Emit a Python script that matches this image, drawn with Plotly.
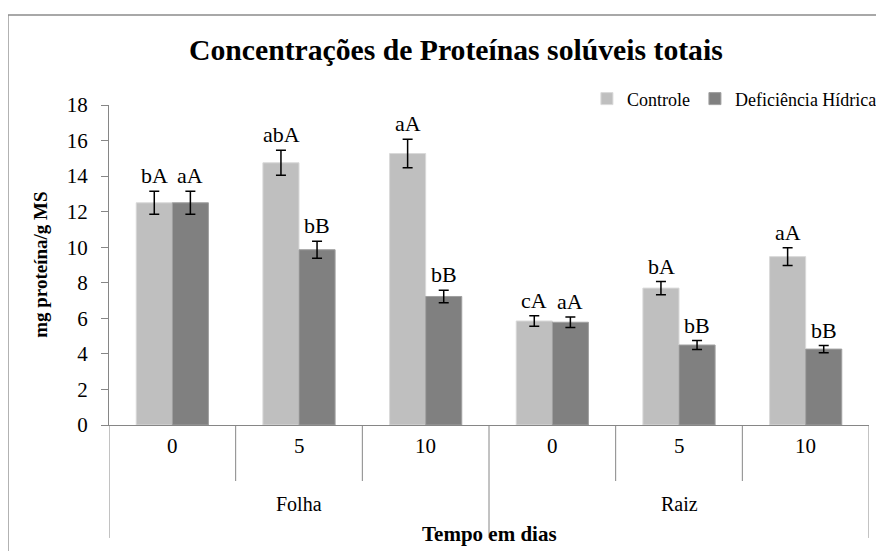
import plotly.graph_objects as go

# ── Data ───────────────────────────────────────────────────────────────────────
tissues = ["Folha", "Folha", "Folha", "Raiz", "Raiz", "Raiz"]
days = ["0", "5", "10", "0", "5", "10"]

controle = [12.5, 14.75, 15.27, 5.85, 7.7, 9.47]
controle_err = [0.65, 0.7, 0.8, 0.3, 0.37, 0.5]
controle_labels = ["bA", "abA", "aA", "cA", "bA", "aA"]

deficit = [12.5, 9.86, 7.23, 5.78, 4.5, 4.27]
deficit_err = [0.65, 0.48, 0.35, 0.3, 0.25, 0.2]
deficit_labels = ["aA", "bB", "bB", "aA", "bB", "bB"]

groups = ["Folha", "Raiz"]
y_ticks = [0, 2, 4, 6, 8, 10, 12, 14, 16, 18]

FONT = "Liberation Serif"
LIGHT = "#bfbfbf"
DARK = "#808080"
AXIS = "#868686"

xs = list(range(len(days)))

fig = go.Figure()
fig.add_trace(go.Bar(
    x=xs, y=controle, name="Controle",
    marker=dict(color=LIGHT, line=dict(color="#d9d9d9", width=1)),
    error_y=dict(type="data", array=controle_err, color="black", thickness=1.5, width=5),
))
fig.add_trace(go.Bar(
    x=xs, y=deficit, name="Deficiência Hídrica",
    marker=dict(color=DARK, line=dict(color="#a0a0a0", width=1)),
    error_y=dict(type="data", array=deficit_err, color="black", thickness=1.5, width=5),
))

annotations = []
# letters above the error bars
for i in xs:
    annotations.append(dict(
        x=i, y=controle[i] + controle_err[i], xref="x", yref="y",
        text=controle_labels[i], showarrow=False, yanchor="bottom",
        xshift=-18, yshift=1, font=dict(family=FONT, size=22, color="black"),
    ))
    annotations.append(dict(
        x=i, y=deficit[i] + deficit_err[i], xref="x", yref="y",
        text=deficit_labels[i], showarrow=False, yanchor="bottom",
        xshift=18, yshift=1, font=dict(family=FONT, size=22, color="black"),
    ))
    # day labels
    annotations.append(dict(
        x=i, y=-0.109, xref="x", yref="paper", text=days[i], showarrow=False,
        font=dict(family=FONT, size=21, color="black"),
    ))

# tissue group labels
n_per = len(days) // len(groups)
for g, name in enumerate(groups):
    annotations.append(dict(
        x=g * n_per + (n_per - 1) / 2, y=-0.287, xref="x", yref="paper",
        text=name, showarrow=False, font=dict(family=FONT, size=20, color="black"),
    ))

annotations.append(dict(
    x=0.5, y=-0.384, xref="paper", yref="paper", text="<b>Tempo em dias</b>",
    xanchor="center", showarrow=False, font=dict(family=FONT, size=21, color="black"),
))
annotations.append(dict(
    x=-0.091, y=0.5, xref="paper", yref="paper", text="<b>mg proteína/g MS</b>",
    xanchor="center", yanchor="middle", textangle=-90, showarrow=False,
    font=dict(family=FONT, size=19, color="black"),
))

shapes = []
# category dividers below the axis
for k in range(len(days) + 1):
    long = k % n_per == 0
    shapes.append(dict(
        type="line", xref="x", yref="paper", x0=k - 0.5, x1=k - 0.5,
        y0=0, y1=-0.353 if long else -0.175, line=dict(color=AXIS, width=1),
    ))
# outer chart border (cut off at right and bottom)
shapes.append(dict(
    type="rect", xref="paper", yref="paper", x0=-0.133, x1=1.5, y0=-0.6, y1=1.281,
    line=dict(color="#8c8c8c", width=1.5), layer="below",
))

fig.update_layout(
    width=868, height=543,
    margin=dict(l=101, r=7, t=97, b=126, autoexpand=False),
    paper_bgcolor="white", plot_bgcolor="white",
    barmode="group", bargap=0.43, bargroupgap=0,
    font=dict(family=FONT, color="black"),
    title=dict(
        text="<b>Concentrações de Proteínas solúveis totais</b>",
        x=0.516, xanchor="center", y=0.923, yanchor="middle",
        font=dict(family=FONT, size=29.7, color="black"),
    ),
    legend=dict(
        orientation="h", x=1.017, xanchor="right", y=1.019, yanchor="middle",
        font=dict(family=FONT, size=18, color="black"),
        itemwidth=30, bgcolor="rgba(0,0,0,0)",
    ),
    showlegend=True,
    annotations=annotations,
    shapes=shapes,
)
fig.update_xaxes(
    range=[-0.5, len(days) - 0.5], showticklabels=False, ticks="",
    showgrid=False, zeroline=False, showline=True, linecolor=AXIS, linewidth=1,
)
fig.update_yaxes(
    range=[0, 18], tickvals=y_ticks, showgrid=False, zeroline=False,
    showline=True, linecolor=AXIS, linewidth=1,
    ticks="outside", ticklen=7, tickcolor=AXIS, ticklabelstandoff=9,
    tickfont=dict(family=FONT, size=21, color="black"),
)

fig.write_html("out.html")
